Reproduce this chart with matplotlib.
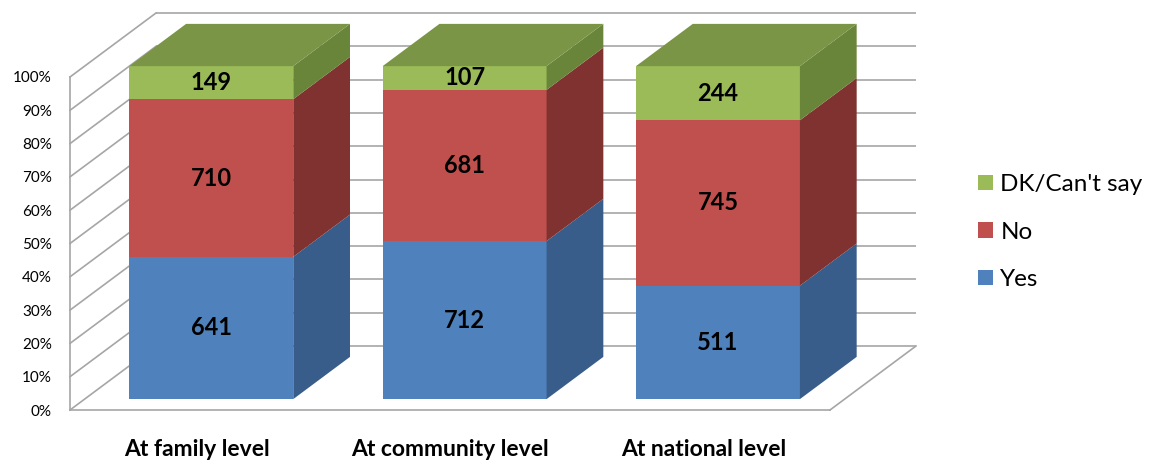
import matplotlib
matplotlib.use('Agg')
import matplotlib.pyplot as plt
from matplotlib.patches import Polygon, Patch
import numpy as np

# Data (counts per answer)
categories = ['At family level', 'At community level', 'At national level']
series_names = ['Yes', 'No', "DK/Can't say"]
yes_counts = [641, 712, 511]
no_counts = [710, 681, 745]
dk_counts = [149, 107, 244]
y_ticks = [0, 10, 20, 30, 40, 50, 60, 70, 80, 90, 100]

front_colors = ['#4F81BD', '#C0504D', '#9BBB59']
side_colors = ['#385D8A', '#7F3230', '#68853A']
top_color = '#7A9546'
grid_color = '#A6A6A6'

plt.rcParams['font.family'] = ['Lato', 'DejaVu Sans']

W, H = 1151, 461
fig = plt.figure(figsize=(W / 100, H / 100), dpi=100)
# front plane of the 3d box: x 70..830 px, y 410 (0%) .. 77 (100%)
ax = fig.add_axes([70 / W, 51 / H, 760 / W, 333 / H])
ax.set_xlim(0, 3)
ax.set_ylim(0, 100)

# oblique depth, in data units (86 px right, 64 px up for full depth)
DX = 86 / 760 * 3
DY = 64 / 333 * 100
f_front, f_back = 0.17, 0.83
bar_w = 0.647


def proj(x, y, f):
    return (x + f * DX, y + f * DY)


# walls and floor
for v in y_ticks:
    xs, ys = zip(proj(0, v, 1), proj(3, v, 1))
    ax.plot(xs, ys, color=grid_color, lw=1.2, zorder=1, clip_on=False, solid_capstyle='butt')
    xs, ys = zip(proj(0, v, 0), proj(0, v, 1))
    ax.plot(xs, ys, color=grid_color, lw=1.2, zorder=1, clip_on=False)
ax.plot([0, 0], [0, 100], color=grid_color, lw=1.2, zorder=1, clip_on=False)
ax.plot([0, 3], [0, 0], color=grid_color, lw=1.2, zorder=1, clip_on=False)
xs, ys = zip(proj(3, 0, 0), proj(3, 0, 1))
ax.plot(xs, ys, color=grid_color, lw=1.2, zorder=1, clip_on=False)

counts = np.array([yes_counts, no_counts, dk_counts], dtype=float)
pct = counts / counts.sum(axis=0) * 100

for i in range(len(categories)):
    x0 = i + 0.5 - bar_w / 2
    x1 = x0 + bar_w
    bottom = 0.0
    for s in range(len(series_names)):
        top = bottom + pct[s, i]
        front = [proj(x0, bottom, f_front), proj(x1, bottom, f_front),
                 proj(x1, top, f_front), proj(x0, top, f_front)]
        side = [proj(x1, bottom, f_front), proj(x1, bottom, f_back),
                proj(x1, top, f_back), proj(x1, top, f_front)]
        ax.add_patch(Polygon(front, closed=True, facecolor=front_colors[s],
                             edgecolor='none', zorder=2, clip_on=False))
        ax.add_patch(Polygon(side, closed=True, facecolor=side_colors[s],
                             edgecolor='none', zorder=2, clip_on=False))
        cx, cy = proj(i + 0.5, (bottom + top) / 2, f_front)
        ax.text(cx, cy, f'{int(counts[s, i])}', ha='center', va='center',
                fontsize=17, fontweight='bold', color='black', zorder=5)
        bottom = top
    lid = [proj(x0, 100, f_front), proj(x1, 100, f_front),
           proj(x1, 100, f_back), proj(x0, 100, f_back)]
    ax.add_patch(Polygon(lid, closed=True, facecolor=top_color,
                         edgecolor='none', zorder=2, clip_on=False))

ax.set_frame_on(False)
ax.set_yticks(y_ticks)
ax.set_yticklabels([f'{v}%' for v in y_ticks], fontsize=11)
ax.set_xticks([i + 0.5 for i in range(len(categories))])
ax.set_xticklabels(categories, fontsize=16.5, fontweight='bold')
ax.tick_params(axis='y', length=0, pad=13)
ax.tick_params(axis='x', length=0, pad=21)

handles = [Patch(facecolor=front_colors[s], edgecolor='none') for s in (2, 1, 0)]
fig.legend(handles, [series_names[s] for s in (2, 1, 0)], loc='center left',
           bbox_to_anchor=(978 / W, 1 - 232 / H), frameon=False, fontsize=17.5,
           borderpad=0, borderaxespad=0,
           handlelength=0.62, handleheight=0.62, handletextpad=0.3, labelspacing=1.09)

fig.savefig('out.png', dpi=100)
